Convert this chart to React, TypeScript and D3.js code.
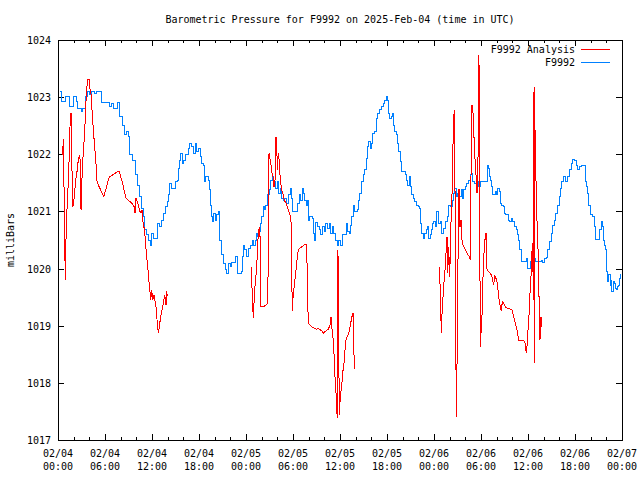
import React from "react";
import * as d3 from "d3";

const titleText = "Barometric Pressure for F9992 on 2025-Feb-04 (time in UTC)";
const yAxisLabel = "milliBars";
const yTickValues = [1017, 1018, 1019, 1020, 1021, 1022, 1023, 1024];
const xTickHours = [0, 6, 12, 18, 24, 30, 36, 42, 48, 54, 60, 66, 72];
const xTickDates = ["02/04", "02/04", "02/04", "02/04", "02/05", "02/05", "02/05", "02/05", "02/06", "02/06", "02/06", "02/06", "02/07"];
const xTickTimes = ["00:00", "06:00", "12:00", "18:00", "00:00", "06:00", "12:00", "18:00", "00:00", "06:00", "12:00", "18:00", "00:00"];
const seriesNames = ["F9992 Analysis", "F9992"];
const seriesColors = ["#ff0000", "#0080ff"];

// hours since 2025-02-04 00:00 UTC, pressure (mb)
const stationData: [number, number][] = [
  [0.26, 1023.10], [0.51, 1022.92], [0.80, 1022.92], [1.02, 1023.01], [1.44, 1022.83], [1.95, 1023.01],
  [2.30, 1022.92], [2.51, 1022.80], [2.94, 1022.75], [3.15, 1022.80], [3.49, 1023.01], [3.79, 1023.10],
  [4.00, 1023.04], [4.34, 1023.10], [4.63, 1023.07], [4.94, 1023.10], [5.49, 1022.90], [6.34, 1022.90],
  [6.55, 1022.83], [6.89, 1022.89], [7.06, 1022.80], [7.62, 1022.90], [7.83, 1022.66], [8.26, 1022.51],
  [8.46, 1022.34], [8.77, 1022.40], [9.03, 1022.31], [9.19, 1021.99], [9.54, 1021.90], [9.87, 1021.64],
  [10.17, 1021.46], [10.38, 1021.26], [10.60, 1021.05], [10.89, 1020.91], [11.02, 1020.68], [11.32, 1020.59],
  [11.58, 1020.50], [11.78, 1020.41], [11.96, 1020.62], [12.17, 1020.53], [12.51, 1020.53], [12.68, 1020.79],
  [12.93, 1020.73], [13.24, 1020.85], [13.44, 1020.97], [13.66, 1021.08], [13.95, 1021.17], [14.08, 1021.29],
  [14.21, 1021.49], [14.51, 1021.40], [14.81, 1021.40], [15.06, 1021.52], [15.23, 1021.55], [15.36, 1021.75],
  [15.57, 1021.90], [15.70, 1022.02], [15.87, 1021.84], [16.00, 1021.90], [16.34, 1021.99], [16.63, 1022.10],
  [16.85, 1022.19], [17.07, 1022.13], [17.27, 1022.02], [17.49, 1022.19], [17.71, 1022.05], [17.91, 1022.10],
  [18.13, 1021.96], [18.34, 1021.84], [18.55, 1021.81], [18.68, 1021.52], [18.89, 1021.61], [19.19, 1021.55],
  [19.31, 1021.38], [19.49, 1021.11], [19.62, 1020.91], [19.75, 1020.82], [19.91, 1020.97], [20.13, 1020.85],
  [20.26, 1020.94], [20.46, 1021.00], [20.59, 1020.85], [20.68, 1020.50], [20.90, 1020.24], [21.10, 1020.09],
  [21.32, 1019.98], [21.54, 1019.91], [21.74, 1020.09], [21.96, 1020.03], [22.17, 1020.10], [22.60, 1020.12],
  [22.72, 1020.21], [22.89, 1019.92], [23.23, 1019.91], [23.45, 1019.95], [23.58, 1020.21], [23.74, 1020.41],
  [23.87, 1020.33], [24.00, 1020.21], [24.26, 1020.21], [24.38, 1020.35], [24.60, 1020.41], [24.80, 1020.50],
  [25.02, 1020.41], [25.24, 1020.50], [25.37, 1020.62], [25.53, 1020.56], [25.66, 1020.65], [25.79, 1020.79],
  [25.95, 1020.91], [26.21, 1021.08], [26.39, 1021.03], [26.55, 1021.11], [26.72, 1021.29], [26.94, 1021.38],
  [27.15, 1021.55], [27.36, 1021.61], [27.49, 1021.49], [27.66, 1021.52], [27.79, 1021.40], [28.00, 1021.52],
  [28.21, 1021.32], [28.43, 1021.40], [28.56, 1021.23], [28.76, 1021.20], [28.94, 1021.23], [29.20, 1021.14],
  [29.40, 1021.29], [29.62, 1021.40], [29.78, 1021.23], [29.91, 1021.00], [30.34, 1021.00], [30.55, 1021.14],
  [30.77, 1021.29], [30.98, 1021.20], [31.19, 1021.40], [31.40, 1021.32], [31.53, 1021.20], [31.66, 1021.11],
  [31.83, 1021.20], [31.95, 1020.85], [32.17, 1020.91], [32.46, 1020.88], [32.59, 1020.73], [32.68, 1020.62],
  [32.77, 1020.50], [32.90, 1020.80], [33.10, 1020.73], [33.32, 1020.68], [33.54, 1020.59], [33.74, 1020.73],
  [33.96, 1020.65], [34.17, 1020.79], [34.38, 1020.70], [34.60, 1020.79], [34.81, 1020.62], [35.02, 1020.73],
  [35.23, 1020.62], [35.45, 1020.50], [35.66, 1020.41], [35.87, 1020.50], [36.00, 1020.41], [36.17, 1020.41],
  [36.38, 1020.59], [36.68, 1020.59], [36.80, 1020.79], [37.02, 1020.65], [37.24, 1020.61], [37.37, 1020.76],
  [37.53, 1020.91], [37.66, 1021.11], [37.79, 1021.00], [38.21, 1021.03], [38.39, 1021.20], [38.51, 1021.32],
  [38.72, 1021.52], [38.94, 1021.64], [39.15, 1021.73], [39.36, 1021.93], [39.57, 1022.13], [39.66, 1022.22],
  [39.83, 1022.10], [40.00, 1022.19], [40.21, 1022.37], [40.43, 1022.40], [40.63, 1022.63], [40.85, 1022.72],
  [41.07, 1022.78], [41.27, 1022.83], [41.49, 1022.89], [41.71, 1022.95], [41.91, 1023.02], [42.04, 1022.95],
  [42.22, 1022.72], [42.34, 1022.63], [42.55, 1022.66], [42.68, 1022.72], [42.80, 1022.51], [42.98, 1022.40],
  [43.19, 1022.34], [43.40, 1022.19], [43.53, 1022.05], [43.75, 1021.87], [43.83, 1021.70], [44.17, 1021.70],
  [44.39, 1021.64], [44.55, 1021.55], [44.68, 1021.46], [44.81, 1021.61], [44.94, 1021.43], [45.10, 1021.29],
  [45.32, 1021.23], [45.54, 1021.17], [45.74, 1021.11], [45.96, 1021.08], [46.17, 1021.05], [46.30, 1020.79],
  [46.38, 1020.62], [46.60, 1020.53], [46.81, 1020.62], [47.02, 1020.68], [47.15, 1020.73], [47.32, 1020.53],
  [47.58, 1020.59], [47.74, 1020.68], [47.87, 1020.79], [47.96, 1020.82], [48.17, 1020.73], [48.38, 1021.00],
  [48.60, 1020.79], [48.80, 1020.82], [49.02, 1020.62], [49.24, 1020.70], [49.44, 1020.82], [49.66, 1020.91],
  [49.87, 1021.11], [50.08, 1021.08], [50.30, 1021.20], [50.51, 1021.32], [50.64, 1021.40], [50.81, 1021.26],
  [51.06, 1021.32], [51.23, 1021.26], [51.49, 1021.38], [51.66, 1021.23], [51.79, 1021.38], [51.99, 1021.43],
  [52.21, 1021.49], [52.43, 1021.55], [52.63, 1021.64], [52.76, 1021.67], [52.94, 1021.52], [53.19, 1021.49],
  [53.49, 1021.52], [53.70, 1021.43], [53.91, 1021.52], [54.55, 1021.52], [54.77, 1021.81], [54.98, 1021.75],
  [55.06, 1021.61], [55.19, 1021.55], [55.31, 1021.43], [55.49, 1021.29], [55.75, 1021.29], [55.83, 1021.35],
  [56.04, 1021.29], [56.17, 1021.40], [56.34, 1021.35], [56.46, 1021.14], [56.68, 1021.11], [56.90, 1021.08],
  [57.02, 1020.97], [57.19, 1020.94], [57.45, 1020.85], [57.61, 1020.82], [57.87, 1020.88], [58.04, 1020.82],
  [58.30, 1020.73], [58.47, 1020.68], [58.63, 1020.59], [58.81, 1020.50], [58.94, 1020.33], [59.14, 1020.12],
  [59.65, 1020.12], [59.78, 1020.18], [59.96, 1020.00], [60.26, 1020.12], [60.60, 1020.12], [60.80, 1020.18],
  [61.02, 1020.12], [61.37, 1020.12], [61.66, 1020.15], [61.79, 1020.10], [62.08, 1020.18], [62.38, 1020.20],
  [62.51, 1020.33], [62.72, 1020.47], [62.94, 1020.62], [63.15, 1020.76], [63.36, 1020.85], [63.57, 1020.97],
  [63.79, 1021.11], [64.00, 1021.26], [64.21, 1021.40], [64.34, 1021.52], [64.51, 1021.61], [64.64, 1021.61],
  [64.77, 1021.52], [65.07, 1021.61], [65.28, 1021.73], [65.49, 1021.84], [65.71, 1021.91], [65.92, 1021.90],
  [66.13, 1021.81], [66.35, 1021.73], [66.55, 1021.78], [66.77, 1021.81], [67.19, 1021.81], [67.32, 1021.52],
  [67.50, 1021.43], [67.62, 1021.32], [67.75, 1021.11], [68.04, 1020.94], [68.26, 1020.91], [68.47, 1020.73],
  [68.60, 1020.51], [69.11, 1020.51], [69.19, 1020.68], [69.32, 1020.82], [69.45, 1020.73], [69.62, 1020.50],
  [69.74, 1020.41], [69.87, 1020.33], [69.96, 1020.12], [70.05, 1019.95], [70.17, 1019.77], [70.30, 1019.89],
  [70.47, 1019.71], [70.60, 1019.80], [70.72, 1019.60], [70.89, 1019.77], [71.02, 1019.74], [71.15, 1019.65],
  [71.32, 1019.63], [71.45, 1019.68], [71.58, 1019.71], [71.74, 1019.83], [71.87, 1019.91],
];

const analysisPart1: [number, number][] = [
  [0.57, 1021.99], [0.70, 1022.27], [0.80, 1021.03], [0.93, 1019.80], [1.02, 1020.50], [1.15, 1021.03],
  [1.31, 1021.49], [1.44, 1021.99], [1.53, 1022.48], [1.66, 1022.72], [1.75, 1021.96], [1.88, 1021.08],
  [2.00, 1021.14], [2.13, 1021.35], [2.30, 1021.58], [2.46, 1021.73], [2.59, 1021.90], [2.72, 1021.96],
  [2.85, 1021.90], [2.94, 1021.03], [3.03, 1021.49], [3.15, 1021.84], [3.28, 1022.16], [3.41, 1022.34],
  [3.49, 1022.72], [3.66, 1023.13], [3.79, 1023.31], [4.00, 1023.31], [4.09, 1023.13], [4.21, 1023.07],
  [4.34, 1022.78], [4.51, 1022.43], [4.63, 1022.22], [4.85, 1021.84], [4.94, 1021.55], [5.14, 1021.46],
  [5.36, 1021.40], [5.62, 1021.32], [5.83, 1021.26], [6.04, 1021.35], [6.26, 1021.46], [6.47, 1021.58],
  [6.64, 1021.61], [6.98, 1021.64], [7.31, 1021.67], [7.62, 1021.70], [7.83, 1021.70], [8.04, 1021.58],
  [8.26, 1021.49], [8.46, 1021.35], [8.68, 1021.23], [8.90, 1021.20], [9.19, 1021.17], [9.45, 1021.14],
  [9.74, 1021.08], [9.83, 1020.97], [9.96, 1021.23], [10.12, 1021.17], [10.30, 1021.08], [10.47, 1021.00],
  [10.60, 1020.97], [10.72, 1021.03], [10.89, 1020.76], [11.02, 1020.70], [11.11, 1020.56], [11.23, 1020.35],
  [11.36, 1020.15], [11.49, 1019.98], [11.62, 1019.77], [11.74, 1019.60], [11.83, 1019.45], [11.96, 1019.63],
  [12.09, 1019.45], [12.26, 1019.54], [12.51, 1019.33], [12.68, 1019.04], [12.81, 1018.87], [12.93, 1018.98],
  [13.11, 1019.16], [13.28, 1019.28], [13.44, 1019.39], [13.62, 1019.54], [13.79, 1019.36], [13.88, 1019.60],
  [13.95, 1019.52],
];

const analysisPart2: [number, number][] = [
  [24.64, 1020.03], [24.80, 1019.57], [24.93, 1019.13], [25.06, 1019.51], [25.19, 1019.77], [25.37, 1020.00],
  [25.44, 1020.27], [25.57, 1020.62], [25.70, 1020.73], [25.79, 1020.56], [25.91, 1019.33], [26.21, 1019.33],
  [26.55, 1019.36], [26.72, 1019.39], [26.85, 1020.06], [26.94, 1022.02], [27.06, 1021.93], [27.19, 1021.81],
  [27.32, 1021.67], [27.48, 1021.58], [27.57, 1021.43], [27.70, 1021.52], [27.83, 1022.31], [27.92, 1022.19],
  [28.00, 1021.73], [28.12, 1022.02], [28.25, 1021.87], [28.34, 1021.64], [28.47, 1021.46], [28.60, 1021.35],
  [28.76, 1021.29], [28.89, 1021.20], [29.11, 1021.14], [29.27, 1021.08], [29.40, 1021.03], [29.62, 1020.94],
  [29.78, 1020.79], [29.83, 1020.03], [29.91, 1019.25], [30.04, 1019.57], [30.17, 1019.71], [30.34, 1019.92],
  [30.47, 1020.09], [30.60, 1020.27], [30.77, 1020.35], [31.11, 1020.38], [31.40, 1020.41], [31.75, 1020.43],
  [31.83, 1019.74], [31.95, 1019.04], [32.17, 1019.01], [32.38, 1018.98], [32.59, 1018.97], [32.94, 1018.94],
  [33.23, 1018.95], [33.66, 1018.91], [33.87, 1018.87], [34.21, 1018.91], [34.51, 1018.94], [34.72, 1019.01],
  [34.85, 1019.16], [34.94, 1018.98], [35.07, 1018.87], [35.23, 1018.52], [35.36, 1018.11], [35.49, 1017.82],
  [35.58, 1017.53], [35.66, 1017.38], [35.74, 1020.33], [35.83, 1018.87], [35.91, 1017.44], [36.04, 1017.76],
  [36.21, 1017.93], [36.34, 1018.17], [36.51, 1018.34], [36.64, 1018.58], [36.77, 1018.75], [36.93, 1018.81],
  [37.06, 1018.84], [37.28, 1018.98], [37.40, 1019.07], [37.53, 1019.16], [37.66, 1019.22], [37.75, 1018.72],
  [37.83, 1018.25],
];

const analysisPart3: [number, number][] = [
  [48.68, 1020.03], [48.80, 1019.63], [48.93, 1018.87], [49.06, 1019.33], [49.19, 1019.57], [49.32, 1019.86],
  [49.44, 1020.03], [49.53, 1020.27], [49.66, 1020.56], [49.75, 1019.92], [49.87, 1020.38], [50.00, 1019.86],
  [50.13, 1020.50], [50.21, 1021.08], [50.34, 1021.40], [50.46, 1022.48], [50.59, 1022.78], [50.68, 1021.43],
  [50.77, 1019.04], [50.85, 1017.41], [50.94, 1018.34], [51.02, 1019.57], [51.10, 1020.62], [51.19, 1021.40],
  [51.32, 1020.73], [51.45, 1020.85], [51.57, 1020.50], [51.70, 1020.41], [51.92, 1020.35], [52.12, 1020.30],
  [52.34, 1020.24], [52.50, 1020.21], [52.63, 1020.15], [52.72, 1021.55], [52.81, 1022.86], [52.89, 1022.86],
  [52.98, 1022.72], [53.07, 1022.45], [53.15, 1022.13], [53.27, 1021.84], [53.40, 1021.55], [53.49, 1021.32],
  [53.58, 1021.49], [53.66, 1022.43], [53.74, 1023.74], [53.83, 1021.20], [53.91, 1018.63], [54.00, 1019.16],
  [54.09, 1018.87], [54.17, 1019.51], [54.29, 1019.98], [54.42, 1020.38], [54.55, 1020.56], [54.64, 1020.62],
  [54.77, 1019.98], [54.98, 1019.95], [55.19, 1019.92], [55.40, 1019.86], [55.62, 1019.71], [55.75, 1019.89],
  [55.91, 1019.83], [56.08, 1019.74], [56.26, 1019.51], [56.39, 1019.39], [56.51, 1019.30], [56.59, 1019.25],
  [56.72, 1019.42], [56.90, 1019.39], [57.10, 1019.33], [57.45, 1019.30], [57.74, 1019.29], [57.96, 1019.28],
  [58.17, 1019.16], [58.38, 1019.04], [58.60, 1018.93], [58.81, 1018.75], [59.45, 1018.75], [59.65, 1018.69],
  [59.78, 1018.52], [59.87, 1018.63], [59.96, 1018.87], [60.09, 1019.04], [60.17, 1019.36], [60.30, 1019.68],
  [60.43, 1019.98], [60.51, 1020.30], [60.60, 1020.44], [60.68, 1019.45], [60.77, 1023.18], [60.81, 1018.34],
  [60.86, 1022.78], [60.93, 1022.08], [61.06, 1021.32], [61.19, 1020.62], [61.32, 1020.21], [61.45, 1019.16],
  [61.53, 1018.75], [61.62, 1019.16], [61.70, 1018.98], [61.79, 1019.16],
];

const W = 640;
const H = 480;
const L = 58;
const R = 622;
const T = 40;
const B = 440;
const FONT = "'DejaVu Sans Mono', 'Liberation Mono', monospace";

export default function App() {
  const x = d3.scaleLinear().domain([0, 72]).range([L, R]);
  const y = d3.scaleLinear().domain([1017, 1024]).range([B, T]);
  const stationLine = d3
    .line<[number, number]>()
    .x((d) => x(d[0]))
    .y((d) => y(d[1]))
    .curve(d3.curveStepAfter);
  const analysisLine = d3
    .line<[number, number]>()
    .x((d) => x(d[0]))
    .y((d) => y(d[1]));

  const minorHours = d3.range(0, 73, 2).filter((h) => h % 6 !== 0);

  return (
    <svg
      width={W}
      height={H}
      style={{ position: "absolute", left: 0, top: 0, background: "#fff" }}
      fontFamily={FONT}
      fontSize={10}
    >
      <rect x={0} y={0} width={W} height={H} fill="#fff" />
      <text x={340} y={23} textAnchor="middle" fill="#000">
        {titleText}
      </text>

      {/* y ticks */}
      {yTickValues.map((v) => (
        <g key={"y" + v}>
          <line x1={L} x2={L + 6} y1={Math.round(y(v)) + 0.5} y2={Math.round(y(v)) + 0.5} stroke="#000" shapeRendering="crispEdges" />
          <line x1={R - 6} x2={R} y1={Math.round(y(v)) + 0.5} y2={Math.round(y(v)) + 0.5} stroke="#000" shapeRendering="crispEdges" />
          <text x={51} y={y(v) + 4} textAnchor="end" fill="#000">
            {v}
          </text>
        </g>
      ))}

      {/* x ticks */}
      {xTickHours.map((h, i) => (
        <g key={"x" + h}>
          <line x1={Math.round(x(h)) + 0.5} x2={Math.round(x(h)) + 0.5} y1={B} y2={B - 6} stroke="#000" shapeRendering="crispEdges" />
          <line x1={Math.round(x(h)) + 0.5} x2={Math.round(x(h)) + 0.5} y1={T} y2={T + 6} stroke="#000" shapeRendering="crispEdges" />
          <text x={x(h)} y={457} textAnchor="middle" fill="#000">
            {xTickDates[i]}
          </text>
          <text x={x(h)} y={470} textAnchor="middle" fill="#000">
            {xTickTimes[i]}
          </text>
        </g>
      ))}
      {minorHours.map((h) => (
        <g key={"m" + h} shapeRendering="crispEdges">
          <line x1={Math.round(x(h)) + 0.5} x2={Math.round(x(h)) + 0.5} y1={B} y2={B - 3} stroke="#000" />
          <line x1={Math.round(x(h)) + 0.5} x2={Math.round(x(h)) + 0.5} y1={T} y2={T + 3} stroke="#000" />
        </g>
      ))}

      <text
        transform={`translate(14,${(T + B) / 2}) rotate(-90)`}
        textAnchor="middle"
        fill="#000"
      >
        {yAxisLabel}
      </text>

      {/* series */}
      <g fill="none" strokeWidth={1} shapeRendering="crispEdges">
        <path d={stationLine(stationData) || ""} stroke={seriesColors[1]} />
        <path d={analysisLine(analysisPart1) || ""} stroke={seriesColors[0]} />
        <path d={analysisLine(analysisPart2) || ""} stroke={seriesColors[0]} />
        <path d={analysisLine(analysisPart3) || ""} stroke={seriesColors[0]} />
      </g>

      {/* legend */}
      {seriesNames.map((name, i) => (
        <g key={name}>
          <text x={575} y={53 + i * 13} textAnchor="end" fill="#000">
            {name}
          </text>
          <line
            x1={581}
            x2={610}
            y1={49.5 + i * 13}
            y2={49.5 + i * 13}
            stroke={seriesColors[i]}
            shapeRendering="crispEdges"
          />
        </g>
      ))}

      <rect
        x={L + 0.5}
        y={T + 0.5}
        width={R - L}
        height={B - T}
        fill="none"
        stroke="#000"
        shapeRendering="crispEdges"
      />
    </svg>
  );
}
